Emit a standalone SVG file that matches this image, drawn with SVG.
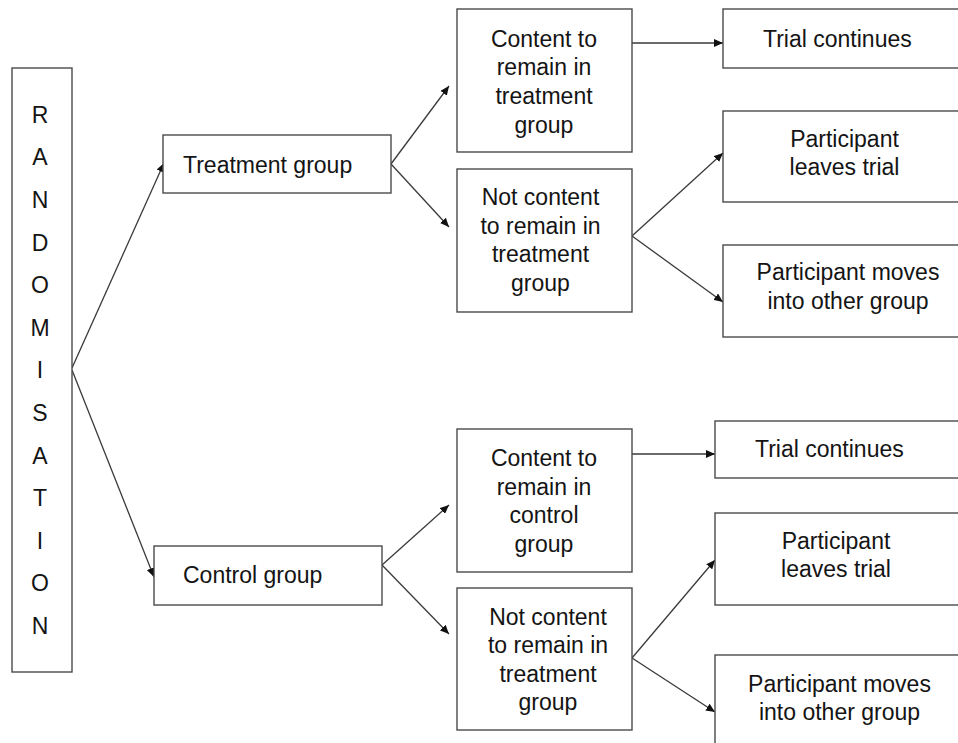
<svg xmlns="http://www.w3.org/2000/svg" width="958" height="743" viewBox="0 0 958 743">
<defs>
<style>
.box{fill:#fff;stroke:#4a4a4a;stroke-width:1.4}
.t{font-family:"Liberation Sans",Arial,sans-serif;font-size:23px;fill:#141414}
.m{text-anchor:middle}
.c{fill:none;stroke:#3a3a3a;stroke-width:1.3}
</style>
<marker id="ah" markerUnits="userSpaceOnUse" markerWidth="10" markerHeight="8" refX="9" refY="4" orient="auto">
<path d="M0,0 L9,4 L0,8 Z" fill="#111"/>
</marker>
</defs>
<rect width="958" height="743" fill="#fff"/>
<g id="connectors" class="c" marker-end="url(#ah)">
<line x1="72" y1="368" x2="164" y2="163"/>
<line x1="72" y1="370" x2="154" y2="577"/>
<line x1="391" y1="164" x2="449" y2="86"/>
<line x1="391" y1="164" x2="449" y2="227"/>
<line x1="632" y1="43" x2="723" y2="43"/>
<line x1="632" y1="236" x2="723" y2="153"/>
<line x1="632" y1="236" x2="723" y2="302"/>
<line x1="382" y1="565" x2="449" y2="505"/>
<line x1="382" y1="565" x2="449" y2="634"/>
<line x1="632" y1="454" x2="715" y2="454"/>
<line x1="632" y1="658" x2="715" y2="560"/>
<line x1="632" y1="658" x2="715" y2="712"/>
</g>
<g id="randomisation">
<rect class="box" x="12" y="68" width="60" height="604"/>
<g class="t m">
<text x="40" y="122.7">R</text>
<text x="40" y="165.3">A</text>
<text x="40" y="207.9">N</text>
<text x="40" y="250.5">D</text>
<text x="40" y="293.1">O</text>
<text x="40" y="335.7">M</text>
<text x="40" y="378.3">I</text>
<text x="40" y="420.9">S</text>
<text x="40" y="463.5">A</text>
<text x="40" y="506.1">T</text>
<text x="40" y="548.7">I</text>
<text x="40" y="591.3">O</text>
<text x="40" y="633.9">N</text>
</g>
</g>
<g id="treatment-group">
<rect class="box" x="163" y="135" width="228" height="58"/>
<text class="t" x="183" y="172.7">Treatment group</text>
</g>
<g id="control-group">
<rect class="box" x="154" y="546" width="228" height="59"/>
<text class="t" x="183" y="582.7">Control group</text>
</g>
<g id="content-treatment">
<rect class="box" x="457" y="9" width="175" height="143"/>
<text class="t m" x="544" y="46.7">Content to</text>
<text class="t m" x="544" y="75.4">remain in</text>
<text class="t m" x="544" y="104.1">treatment</text>
<text class="t m" x="544" y="132.8">group</text>
</g>
<g id="not-content-treatment">
<rect class="box" x="457" y="169" width="175" height="143"/>
<text class="t m" x="540.5" y="205">Not content</text>
<text class="t m" x="540.5" y="233.7">to remain in</text>
<text class="t m" x="540.5" y="262.4">treatment</text>
<text class="t m" x="540.5" y="291.1">group</text>
</g>
<g id="trial-continues-1">
<rect class="box" x="723" y="9" width="260" height="59"/>
<text class="t" x="763" y="46.7">Trial continues</text>
</g>
<g id="leaves-trial-1">
<rect class="box" x="723" y="111" width="260" height="91"/>
<text class="t m" x="844.5" y="146.7">Participant</text>
<text class="t m" x="844.5" y="175.3">leaves trial</text>
</g>
<g id="moves-group-1">
<rect class="box" x="723" y="245" width="260" height="92"/>
<text class="t m" x="848" y="280">Participant moves</text>
<text class="t m" x="848" y="308.7">into other group</text>
</g>
<g id="content-control">
<rect class="box" x="457" y="429" width="175" height="143"/>
<text class="t m" x="544" y="466">Content to</text>
<text class="t m" x="544" y="494.5">remain in</text>
<text class="t m" x="544" y="523">control</text>
<text class="t m" x="544" y="551.5">group</text>
</g>
<g id="not-content-control">
<rect class="box" x="457" y="588" width="175" height="142"/>
<text class="t m" x="548" y="625">Not content</text>
<text class="t m" x="548" y="653.3">to remain in</text>
<text class="t m" x="548" y="681.7">treatment</text>
<text class="t m" x="548" y="710">group</text>
</g>
<g id="trial-continues-2">
<rect class="box" x="715" y="421" width="270" height="57"/>
<text class="t" x="755" y="457.3">Trial continues</text>
</g>
<g id="leaves-trial-2">
<rect class="box" x="715" y="513" width="270" height="92"/>
<text class="t m" x="836" y="549">Participant</text>
<text class="t m" x="836" y="577.3">leaves trial</text>
</g>
<g id="moves-group-2">
<rect class="box" x="715" y="655" width="270" height="120"/>
<text class="t m" x="839.5" y="691.7">Participant moves</text>
<text class="t m" x="839.5" y="720">into other group</text>
</g>
</svg>
